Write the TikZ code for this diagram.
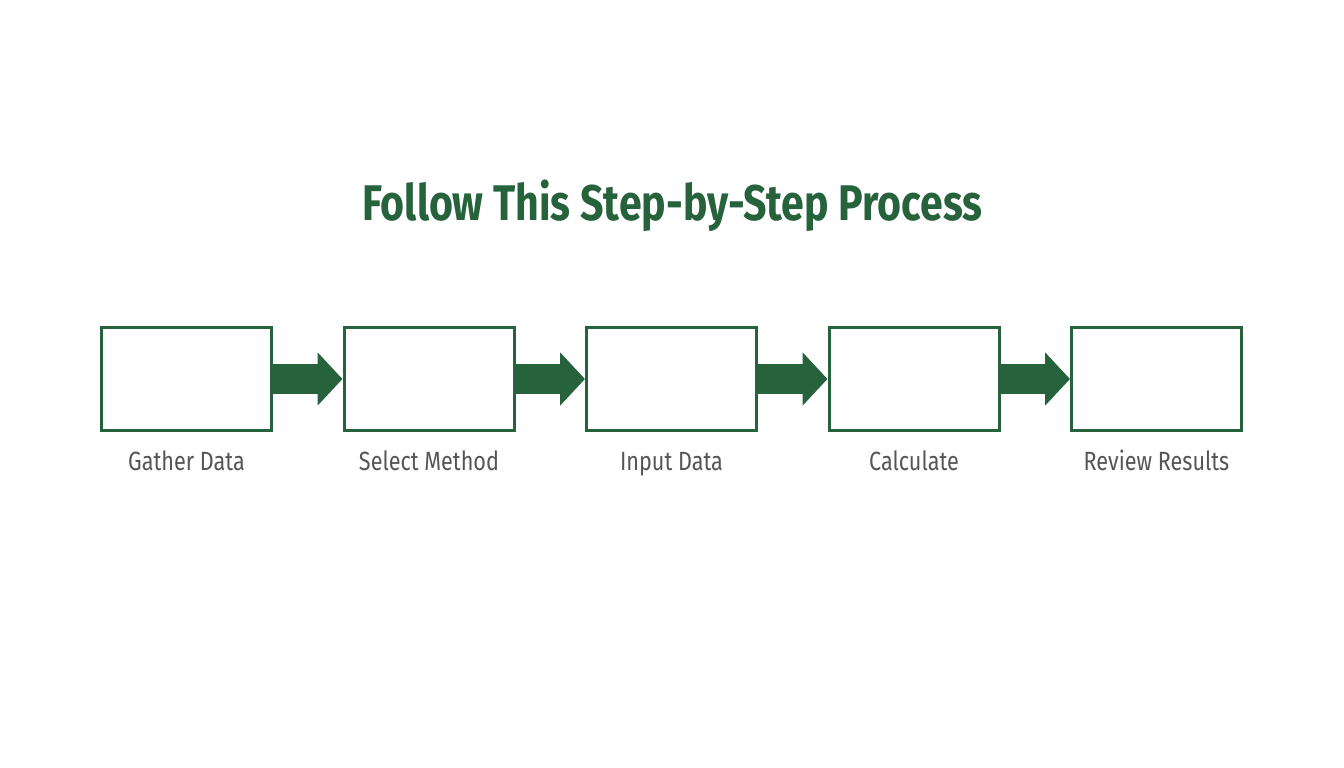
\documentclass[tikz,border=0pt]{standalone}
\usepackage{fontspec}
\setmainfont{Fira Sans}[FakeStretch=0.82]
\usetikzlibrary{arrows.meta,positioning}
\definecolor{stepgreen}{RGB}{38,98,60}
\definecolor{labelgray}{RGB}{85,85,85}
\tikzset{
  stepbox/.style={draw=stepgreen, line width=0.06cm, minimum width=3.40cm, minimum height=2.06cm, inner sep=0pt},
  steplabel/.style={text=labelgray, font=\fontsize{15}{17}\selectfont, anchor=base},
  flow/.style={stepgreen, line width=0.6cm, -{Triangle[length=0.5cm, width=1.04cm]}}
}
\begin{document}
\begin{tikzpicture}[node distance=1.39cm]
\useasboundingbox (0,0) rectangle (26.88,-15.36);
\node[text=stepgreen, font=\bfseries\fontsize{28.5}{32}\selectfont] (title) at (13.45,-4.12) {Follow This Step-by-Step Process};

\node[stepbox] (gather) at (3.73,-7.58) {};
\node[stepbox, right=of gather] (select) {};
\node[stepbox, right=of select] (input) {};
\node[stepbox, right=of input] (calc) {};
\node[stepbox, right=of calc] (review) {};

\foreach \n/\t in {gather/Gather Data, select/Select Method, input/Input Data, calc/Calculate, review/Review Results}
  \node[steplabel] (\n-lab) at ([yshift=-1.82cm]\n.center) {\t};

\draw[flow] (gather) -- (select);
\draw[flow] (select) -- (input);
\draw[flow] (input) -- (calc);
\draw[flow] (calc) -- (review);
\end{tikzpicture}
\end{document}
